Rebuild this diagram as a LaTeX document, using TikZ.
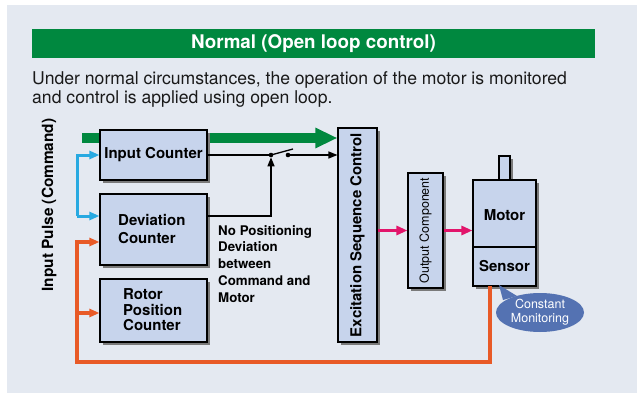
\documentclass[tikz,border=0pt]{standalone}
\usepackage{fontspec}
\setmainfont{TeX Gyre Heros}
\usetikzlibrary{arrows.meta,shapes.geometric,shadows}
\definecolor{panel}{HTML}{E4E9F1}
\definecolor{bargreen}{HTML}{00883F}
\definecolor{boxblue}{HTML}{C7D4EC}
\definecolor{lineblue}{HTML}{27A9E1}
\definecolor{pinkline}{HTML}{E2156B}
\definecolor{orangeline}{HTML}{E85A27}
\definecolor{ellblue}{HTML}{5472B2}
\definecolor{shadowgray}{HTML}{7A7A7A}
\definecolor{textdark}{HTML}{1A1A1A}
\tikzset{
  blockbox/.style={draw=black, line width=1.1pt, fill=boxblue, rectangle, inner sep=0pt,
    drop shadow={shadow xshift=3pt, shadow yshift=-3pt, fill=shadowgray, opacity=1}},
  lbl/.style={font=\fontsize{15}{18}\selectfont\bfseries, align=left, inner sep=0pt},
  tri/.style={-{Triangle[length=10pt,width=8pt]}},
  bluel/.style={draw=lineblue, line width=3pt, tri, lineblue},
  orangel/.style={draw=orangeline, line width=3.6pt, tri, orangeline},
  pinkl/.style={draw=pinkline, line width=3.8pt, -{Triangle[length=11pt,width=9pt]}, pinkline},
  blackl/.style={draw=black, line width=1.3pt},
}
\begin{document}
\begin{tikzpicture}[x=1pt,y=-1pt]
\useasboundingbox (0,0) rectangle (637,393);
\fill[white] (0,0) rectangle (637,393);
\fill[panel] (7,5) rectangle (637,393);
% title bar
\node[fill=bargreen, minimum width=563pt, minimum height=29pt, inner sep=0pt,
  text=white, font=\fontsize{18.8}{22}\selectfont\bfseries] (title) at (313.5,43.5) {Normal (Open loop control)};
\node[anchor=base west, align=left, inner sep=0pt, text=textdark, font=\fontsize{17.6}{19.5}\selectfont] (intro) at (32,104)
  {Under normal circumstances, the operation of the motor is monitored\\and control is applied using open loop.};
% green band
\coordinate (gstart) at (82,138);
% boxes
\node[blockbox, minimum width=39pt, minimum height=214pt] (esc) at (357.5,235) {};
\draw[bargreen, line width=10pt, -{Triangle[length=22pt,width=19pt]}] (gstart) -- (esc.west |- gstart);
\node[blockbox, minimum width=107pt, minimum height=50pt] (ic) at (153.5,155) {};
\node[lbl] (ict) at (ic.center) {Input Counter};
\node[blockbox, minimum width=107pt, minimum height=71pt] (dc) at (153.5,229.5) {};
\node[lbl, anchor=west] (dct) at (118,229) {Deviation\\Counter};
\node[blockbox, minimum width=107pt, minimum height=63pt] (rpc) at (153.5,310.5) {};
\node[lbl, anchor=west, font=\fontsize{15}{15.5}\selectfont\bfseries] (rpct) at (123,310) {Rotor\\Position\\Counter};
\node[lbl, rotate=90] (esct) at (esc.center) {Excitation Sequence Control};
\node[blockbox, minimum width=35pt, minimum height=115pt] (oc) at (425.5,230.5) {};
\node[inner sep=0pt, rotate=90, font=\fontsize{12.5}{14}\selectfont] (oct) at (oc.center) {Output Component};
\node[blockbox, minimum width=11pt, minimum height=24pt, drop shadow={opacity=0}] (shaft) at (504.5,168) {};
\node[blockbox, minimum width=63pt, minimum height=67pt] (motor) at (504.5,213.5) {};
\node[blockbox, minimum width=63pt, minimum height=39pt] (sensor) at (504.5,266.5) {};
\node[lbl] (motort) at (504.5,215) {Motor};
\node[lbl] (sensort) at (sensor.center) {Sensor};
% vertical label
\node[lbl, rotate=90, font=\fontsize{15.4}{18}\selectfont\bfseries] (pulse) at (49,205) {Input Pulse (Command)};
% blue input lines
\coordinate (bb) at (77,216);
\draw[bluel] (bb) |- (ic.west);
\draw[bluel] (bb) -- (dc.west |- bb);
% switch
\coordinate (p1) at (271,155);
\coordinate (p2) at (288,155);
\draw[blackl] (ic.east) -- (p1);
\draw[blackl] (p1) -- (293,149);
\fill (p1) circle (2.3pt);
\fill (p2) circle (2.3pt);
\draw[blackl, -{Triangle[length=9pt,width=7pt]}] (p2) -- (esc.west |- p2);
\draw[blackl, -{Triangle[length=9pt,width=7pt]}, shorten >=2.3pt] (dc.east |- bb) -| (p1);
\node[anchor=north west, align=left, inner sep=0pt, font=\fontsize{13.3}{16.8}\selectfont\bfseries] (npd) at (218,225)
  {No Positioning\\Deviation\\between\\Command and\\Motor};
% pink
\draw[pinkl] (esc.east |- oc.west) -- (oc.west);
\draw[pinkl] (oc.east) -- (motor.west |- oc.east);
% orange feedback
\coordinate (os) at (490,286);
\coordinate (obr) at (490,362);
\coordinate (obl) at (77,362);
\coordinate (otop) at (77,242);
\coordinate (omid) at (77,313);
\draw[orangel] (os) -- (obr) -- (obl) -- (otop) -- (dc.west |- otop);
\draw[orangel] (omid) -- (rpc.west |- omid);
% callout
\fill[ellblue] (499,285) -- (503,300) -- (517,296) -- cycle;
\node[ellipse, fill=ellblue, minimum width=88pt, minimum height=39pt, inner sep=0pt,
  text=white, align=center, font=\fontsize{12.5}{14}\selectfont] (mon) at (540,312.5) {Constant\\Monitoring};
\end{tikzpicture}
\end{document}
